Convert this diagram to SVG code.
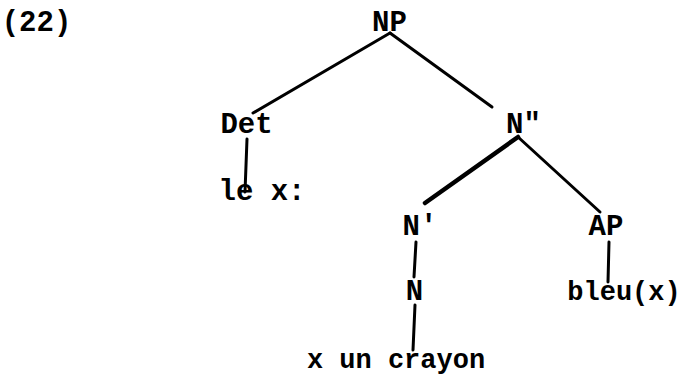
<svg xmlns="http://www.w3.org/2000/svg" width="688" height="375" viewBox="0 0 688 375">
<style>
text{font-family:"Liberation Mono","Courier New",monospace;font-weight:bold;font-size:29px;fill:#000;text-anchor:middle}
.s{font-size:27px}
.e{stroke:#000;stroke-width:3;stroke-linecap:round;fill:none}
.t{stroke-width:4.5}
</style>
<rect width="688" height="375" fill="#fff"/>
<text x="36.5" y="31">(22)</text>
<g id="connectors">
<line class="e" x1="390" y1="33" x2="253" y2="113"/>
<line class="e" x1="390" y1="33" x2="492" y2="107"/>
<line class="e" x1="247" y1="139" x2="245" y2="192"/>
<line class="e t" x1="518" y1="137" x2="425" y2="203"/>
<line class="e" x1="518" y1="137" x2="600" y2="212"/>
<line class="e" x1="416" y1="242" x2="414" y2="277"/>
<line class="e" x1="609" y1="242" x2="608" y2="282"/>
<line class="e" x1="415" y1="305" x2="413" y2="350"/>
</g>
<g id="np"><text x="389.5" y="31">NP</text></g>
<g id="det"><text x="246.5" y="133">Det</text></g>
<g id="n2"><text x="523.5" y="133">N"</text></g>
<g id="lex"><text x="262" y="200">le x:</text></g>
<g id="n1"><text x="420" y="235">N'</text></g>
<g id="ap"><text x="606" y="235">AP</text></g>
<g id="n0"><text x="414.5" y="300">N</text></g>
<g id="bleu"><text class="s" x="624" y="300">bleu(x)</text></g>
<g id="crayon"><text class="s" x="396" y="368">x un crayon</text></g>
</svg>
